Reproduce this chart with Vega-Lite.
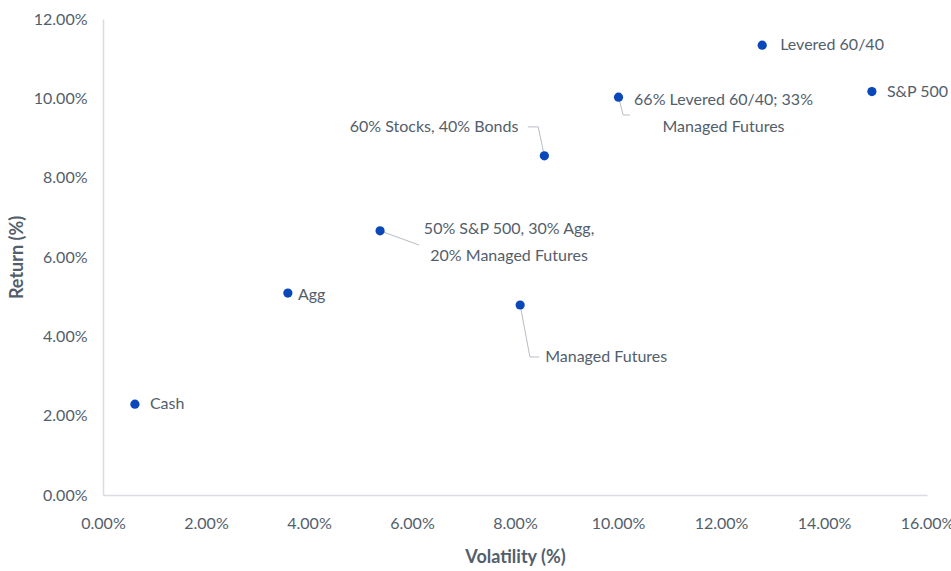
{
  "$schema": "https://vega.github.io/schema/vega-lite/v6.json",
  "width": 824,
  "height": 476,
  "autosize": {"type": "none"},
  "padding": {"left": 103, "top": 19, "right": 24, "bottom": 76},
  "background": "white",
  "config": {"view": {"stroke": null}, "font": "Lato"},
  "datasets": {
    "points": [
      {"name": "Cash", "vol": 0.0062, "ret": 0.0229, "label": "Cash"},
      {"name": "Agg", "vol": 0.0359, "ret": 0.0509, "label": "Agg"},
      {"name": "Mix50", "vol": 0.0538, "ret": 0.0666, "label": ["50% S&P 500, 30% Agg,", "20% Managed Futures"]},
      {"name": "MF", "vol": 0.0810, "ret": 0.0479, "label": "Managed Futures"},
      {"name": "SB6040", "vol": 0.0857, "ret": 0.0855, "label": "60% Stocks, 40% Bonds"},
      {"name": "Lev66", "vol": 0.1001, "ret": 0.1003, "label": ["66% Levered 60/40; 33%", "Managed Futures"]},
      {"name": "Lev", "vol": 0.1280, "ret": 0.1134, "label": "Levered 60/40"},
      {"name": "SP", "vol": 0.1493, "ret": 0.1017, "label": "S&P 500"}
    ],
    "leaders": [
      {"id": "SB6040", "seq": 1, "vol": 0.0825, "ret": 0.0928},
      {"id": "SB6040", "seq": 2, "vol": 0.0845, "ret": 0.0928},
      {"id": "SB6040", "seq": 3, "vol": 0.0857, "ret": 0.0855},
      {"id": "Mix50", "seq": 1, "vol": 0.0538, "ret": 0.0666},
      {"id": "Mix50", "seq": 2, "vol": 0.0614, "ret": 0.0630},
      {"id": "MF", "seq": 1, "vol": 0.0810, "ret": 0.0479},
      {"id": "MF", "seq": 2, "vol": 0.0829, "ret": 0.0348},
      {"id": "MF", "seq": 3, "vol": 0.0847, "ret": 0.0348},
      {"id": "Lev66", "seq": 1, "vol": 0.1001, "ret": 0.1003},
      {"id": "Lev66", "seq": 2, "vol": 0.1010, "ret": 0.0958},
      {"id": "Lev66", "seq": 3, "vol": 0.1023, "ret": 0.0958}
    ]
  },
  "encoding": {
    "x": {
      "field": "vol", "type": "quantitative",
      "scale": {"domain": [0, 0.16], "nice": false, "zero": true},
      "axis": {
        "title": "Volatility (%)", "format": ".2%",
        "values": [0, 0.02, 0.04, 0.06, 0.08, 0.10, 0.12, 0.14, 0.16],
        "grid": false, "ticks": false, "tickSize": 0,
        "domainColor": "#d9dce1", "domainWidth": 1.5,
        "labelColor": "#535e6b", "labelFontSize": 16, "labelPadding": 20,
        "labelFlush": false, "labelOverlap": false,
        "titleColor": "#535e6b", "titleFontSize": 18, "titleFontWeight": "bold",
        "titlePadding": 17
      }
    },
    "y": {
      "field": "ret", "type": "quantitative",
      "scale": {"domain": [0, 0.12], "nice": false, "zero": true},
      "axis": {
        "title": "Return (%)", "format": ".2%",
        "values": [0, 0.02, 0.04, 0.06, 0.08, 0.10, 0.12],
        "grid": false, "ticks": false, "tickSize": 0,
        "domainColor": "#d9dce1", "domainWidth": 1.5,
        "labelColor": "#535e6b", "labelFontSize": 16, "labelPadding": 16,
        "labelFlush": false, "labelOverlap": false,
        "titleColor": "#535e6b", "titleFontSize": 18, "titleFontWeight": "bold",
        "titlePadding": 7
      }
    }
  },
  "layer": [
    {
      "data": {"name": "leaders"},
      "mark": {"type": "line", "color": "#b8bdc4", "strokeWidth": 1},
      "encoding": {
        "detail": {"field": "id", "type": "nominal"},
        "order": {"field": "seq", "type": "quantitative"}
      }
    },
    {
      "data": {"name": "points"},
      "mark": {"type": "circle", "size": 85, "color": "#0a47b8", "opacity": 1}
    },
    {
      "data": {"name": "points"},
      "transform": [{"filter": "datum.name === 'Cash'"}],
      "mark": {"type": "text", "align": "left", "baseline": "middle", "dx": 15, "fontSize": 16, "color": "#535e6b"},
      "encoding": {"text": {"field": "label"}}
    },
    {
      "data": {"name": "points"},
      "transform": [{"filter": "datum.name === 'Agg'"}],
      "mark": {"type": "text", "align": "left", "baseline": "middle", "dx": 10, "dy": 2, "fontSize": 16, "color": "#535e6b"},
      "encoding": {"text": {"field": "label"}}
    },
    {
      "data": {"name": "points"},
      "transform": [{"filter": "datum.name === 'Lev'"}],
      "mark": {"type": "text", "align": "left", "baseline": "middle", "dx": 18, "fontSize": 16, "color": "#535e6b"},
      "encoding": {"text": {"field": "label"}}
    },
    {
      "data": {"name": "points"},
      "transform": [{"filter": "datum.name === 'SP'"}],
      "mark": {"type": "text", "align": "left", "baseline": "middle", "dx": 15, "fontSize": 16, "color": "#535e6b"},
      "encoding": {"text": {"field": "label"}}
    },
    {
      "data": {"name": "points"},
      "transform": [{"filter": "datum.name === 'SB6040'"}],
      "mark": {"type": "text", "align": "right", "baseline": "middle", "dx": -26, "dy": -29, "fontSize": 16, "color": "#535e6b"},
      "encoding": {"text": {"field": "label"}}
    },
    {
      "data": {"name": "points"},
      "transform": [{"filter": "datum.name === 'MF'"}],
      "mark": {"type": "text", "align": "left", "baseline": "middle", "dx": 25, "dy": 52, "fontSize": 16, "color": "#535e6b"},
      "encoding": {"text": {"field": "label"}}
    },
    {
      "data": {"name": "points"},
      "transform": [{"filter": "datum.name === 'Mix50'"}],
      "mark": {"type": "text", "align": "center", "baseline": "top", "dx": 129, "dy": -10, "lineHeight": 27, "fontSize": 16, "color": "#535e6b"},
      "encoding": {"text": {"field": "label"}}
    },
    {
      "data": {"name": "points"},
      "transform": [{"filter": "datum.name === 'Lev66'"}],
      "mark": {"type": "text", "align": "center", "baseline": "top", "dx": 105, "dy": -5, "lineHeight": 27, "fontSize": 16, "color": "#535e6b"},
      "encoding": {"text": {"field": "label"}}
    }
  ]
}
